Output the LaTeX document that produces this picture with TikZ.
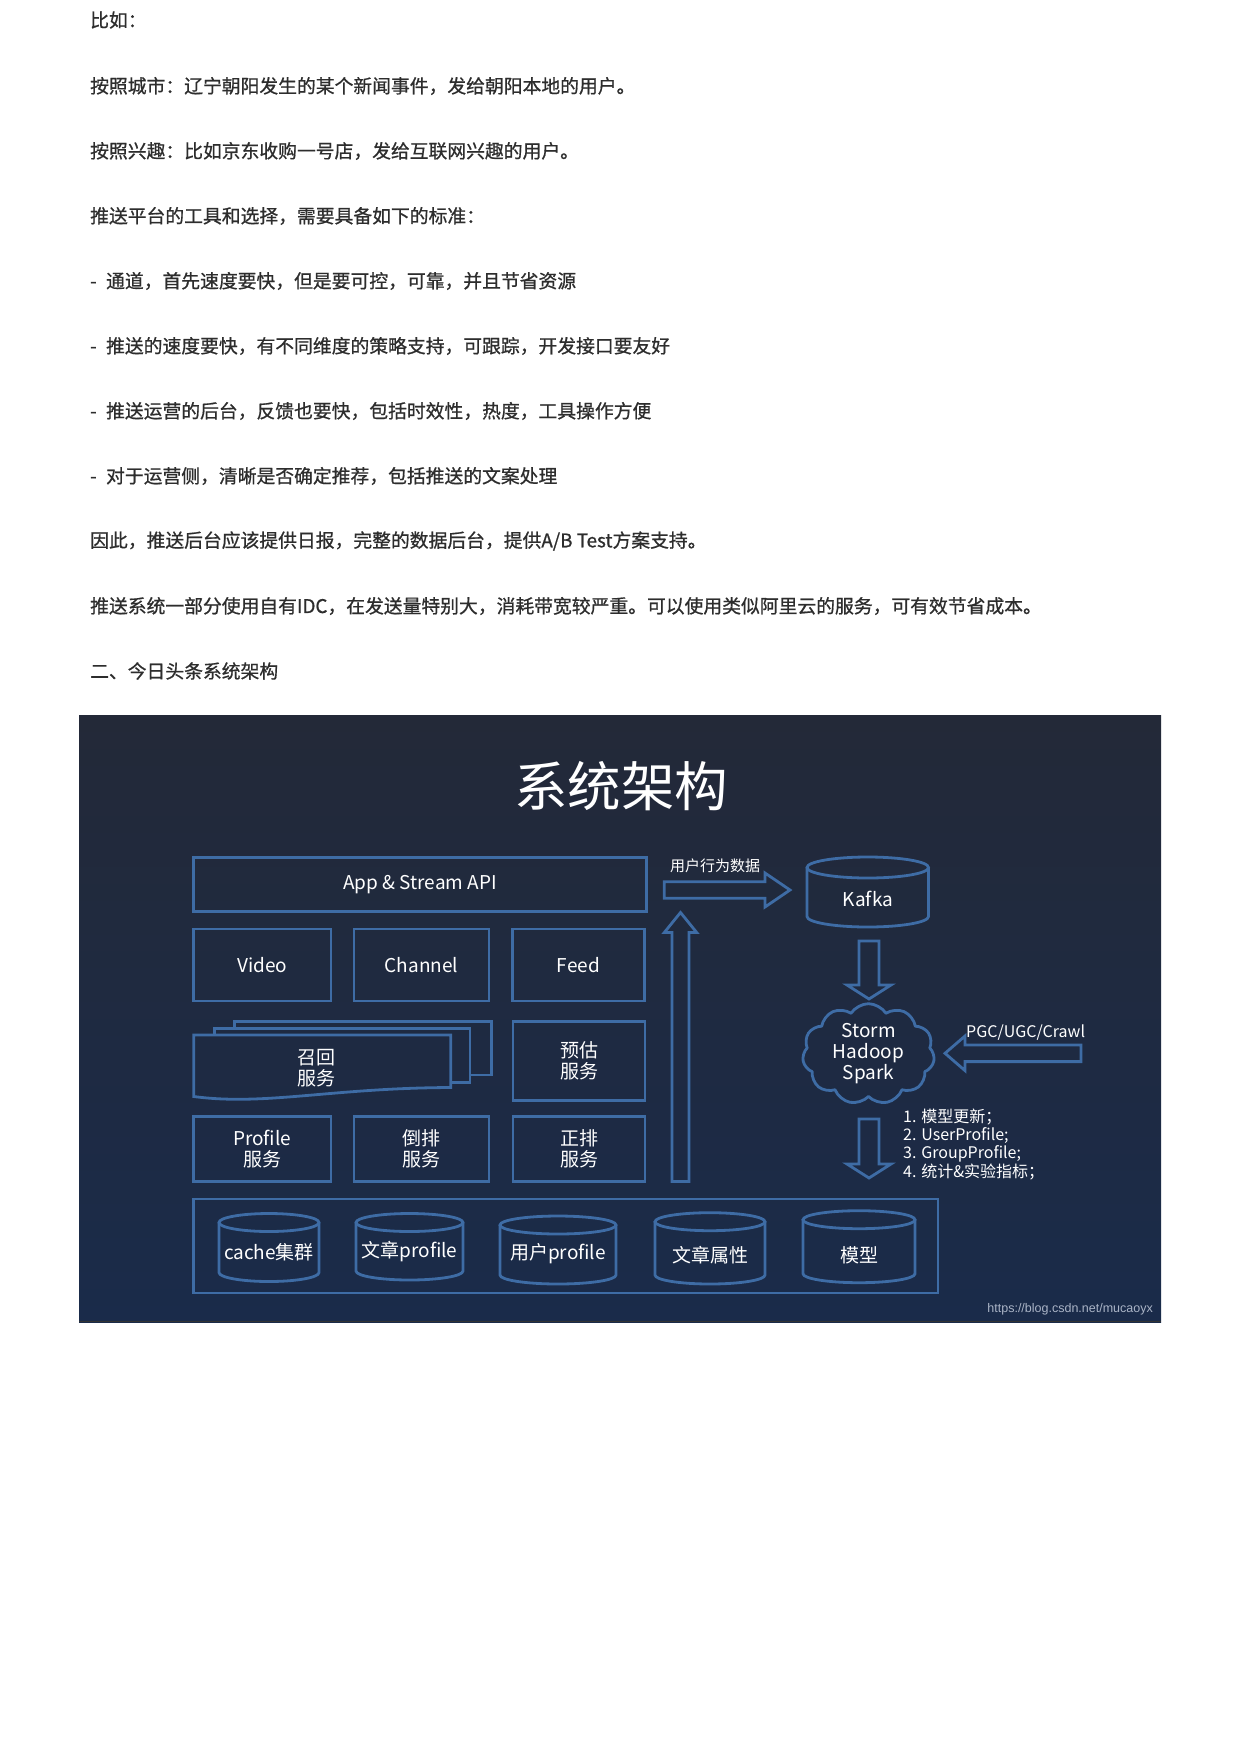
\documentclass[tikz,border=0pt]{standalone}
\usepackage{fontspec}
\setmainfont{Noto Sans CJK SC}
\newfontfamily\bodyfont[FakeBold=0.8]{Noto Sans CJK SC}
\newfontfamily\wmfont{Liberation Sans}
\usetikzlibrary{calc,shapes.symbols}
\definecolor{lnc}{RGB}{62,108,165}
\definecolor{bodyc}{RGB}{45,45,45}
\definecolor{bgtop}{RGB}{35,41,56}
\definecolor{bgbot}{RGB}{26,43,74}
\definecolor{wmc}{RGB}{170,180,198}
\newcommand\cylshape[5]{%
  \pgfmathsetmacro\cyrx{(#3-#1)/2}%
  \pgfmathsetmacro\cycx{(#1+#3)/2}%
  \draw[ln] (#1,{#2+#5}) -- (#1,{#4-#5}) arc[start angle=180,end angle=360,x radius=\cyrx pt,y radius=#5pt] -- (#3,{#2+#5});
  \draw[ln] (\cycx,{#2+#5}) ellipse[x radius=\cyrx pt,y radius=#5pt];
}
\newcommand\barrow[6]{%
  \coordinate (#1b) at ($(#3)!#6!(#2)$);
  \draw[ln] ($(#2)!#4!90:(#3)$) -- ($(#1b)!#4!90:(#3)$) -- ($(#1b)!#5!90:(#3)$) -- (#3)
    -- ($(#1b)!#5!-90:(#3)$) -- ($(#1b)!#4!-90:(#3)$) -- ($(#2)!#4!-90:(#3)$) -- cycle;
}
\begin{document}
\begin{tikzpicture}[x=1pt,y=-1pt,
  ln/.style={draw=lnc, line width=2.8pt, line join=miter},
  bx/.style={ln, rectangle, inner sep=0pt, text=white, align=center, font=\fontsize{19}{21}\selectfont},
  tx/.style={text=white, align=center, inner sep=0pt, font=\fontsize{19}{21}\selectfont},
  body/.style={anchor=west, inner sep=0pt, text=bodyc, font=\bodyfont\fontsize{18.8}{22}\selectfont},
]
\useasboundingbox (0,0) rectangle (1240,1754);
\fill[white] (0,0) rectangle (1240,1754);

% ---------- article text ----------
\node[body] (t1) at (90,20) {比如：};
\node[body] (t2) at (90,86) {按照城市：辽宁朝阳发生的某个新闻事件，发给朝阳本地的用户。};
\node[body] (t3) at (90,151) {按照兴趣：比如京东收购一号店，发给互联网兴趣的用户。};
\node[body] (t4) at (90,216) {推送平台的工具和选择，需要具备如下的标准：};
\node[body] (t5) at (90,281) {-\hspace{0.5em}通道，首先速度要快，但是要可控，可靠，并且节省资源};
\node[body] (t6) at (90,346) {-\hspace{0.5em}推送的速度要快，有不同维度的策略支持，可跟踪，开发接口要友好};
\node[body] (t7) at (90,411) {-\hspace{0.5em}推送运营的后台，反馈也要快，包括时效性，热度，工具操作方便};
\node[body] (t8) at (90,476) {-\hspace{0.5em}对于运营侧，清晰是否确定推荐，包括推送的文案处理};
\node[body] (t9) at (90,541) {因此，推送后台应该提供日报，完整的数据后台，提供A/B Test方案支持。};
\node[body] (t10) at (90,606) {推送系统一部分使用自有IDC，在发送量特别大，消耗带宽较严重。可以使用类似阿里云的服务，可有效节省成本。};
\node[body] (t11) at (90,671) {二、今日头条系统架构};

% ---------- slide background ----------
\shade[top color=bgtop, bottom color=bgbot] (79,715) rectangle (1161,1322);
\draw[black!80, line width=1.5pt] (79,1321.5) -- (1161,1321.5);

% title
\node[tx, font=\fontsize{53.5}{57}\selectfont] (title) at (621,786.5) {系统架构};

% ---------- left block ----------
\node[bx, minimum width=453pt, minimum height=54pt] (app) at (420,884.5) {App \& Stream API};
\node[bx, minimum width=137.5pt, minimum height=72pt] (video) at (262.25,965) {Video};
\node[bx, minimum width=135pt, minimum height=72pt] (channel) at (421.5,965) {Channel};
\node[bx, minimum width=132pt, minimum height=72pt] (feed) at (578.5,965) {Feed};

% recall stack
\draw[ln] (470,1075) -- (491.7,1075) -- (491.7,1021.7) -- (234.3,1021.7) -- (234.3,1028.3);
\draw[ln] (450.7,1082.3) -- (470,1082.3) -- (470,1028.3) -- (214.3,1028.3) -- (214.3,1035);
\draw[ln] (193.7,1035) -- (450.7,1035) -- (450.7,1087.5)
  .. controls (330,1088) and (265,1106) .. (193.7,1096.5) -- cycle;
\node[tx] (recall) at (316,1068) {召回\\服务};

\node[bx, minimum width=132pt, minimum height=79pt] (est) at (579,1061.2) {预估\\服务};
\node[bx, minimum width=137.5pt, minimum height=65pt] (prof) at (262.25,1149) {Profile\\服务};
\node[bx, minimum width=135pt, minimum height=65pt] (inv) at (421.5,1149) {倒排\\服务};
\node[bx, minimum width=132pt, minimum height=65pt] (fwd) at (579,1149) {正排\\服务};

% ---------- storage ----------
\node[ln, rectangle, inner sep=0pt, minimum width=744.5pt, minimum height=94pt] (store) at (565.75,1246) {};
\cylshape{219}{1213.5}{319}{1281.5}{9}
\node[tx] (cache) at (269,1252.5) {cache集群};
\cylshape{356}{1213.5}{463}{1280}{9}
\node[tx] (artprof) at (409.5,1252) {文章profile};
\cylshape{500}{1216}{616}{1284}{9}
\node[tx] (userprof) at (558,1254) {用户profile};
\cylshape{655}{1212.7}{765}{1284}{9}
\node[tx] (artattr) at (710,1255) {文章属性};
\cylshape{803}{1210.7}{915}{1282.7}{9}
\node[tx] (model) at (859,1255) {模型};

% ---------- right side ----------
\cylshape{807}{857}{928.5}{927}{10.5}
\node[tx] (kafka) at (868,898.5) {Kafka};

\node[cloud, cloud puffs=11, cloud puff arc=115, aspect=1.4, ln, line join=round,
  minimum width=132pt, minimum height=92pt, inner sep=0pt,
  text=white, align=center, font=\fontsize{19}{21}\selectfont] (proc) at (868.5,1054) {Storm\\Hadoop\\Spark};

% block arrows
\coordinate (a1t) at (664.3,890);  \coordinate (a1h) at (790,890);
\barrow{a1}{a1t}{a1h}{8.3pt}{17pt}{25pt}
\node[tx, font=\fontsize{15}{17}\selectfont] (lbl1) at (715,865.7) {用户行为数据};

\coordinate (a2t) at (680.5,1181.5); \coordinate (a2h) at (680.5,912.5);
\barrow{a2}{a2t}{a2h}{8.5pt}{16.2pt}{20pt}

\coordinate (a3t) at (869,941); \coordinate (a3h) at (869,999);
\barrow{a3}{a3t}{a3h}{10pt}{22pt}{14pt}

\coordinate (a4t) at (1081,1053.3); \coordinate (a4h) at (945,1053.3);
\barrow{a4}{a4t}{a4h}{8.3pt}{17.3pt}{20pt}
\node[tx, anchor=west, font=\fontsize{16}{18}\selectfont] (lbl2) at (966,1032.7) {PGC/UGC/Crawl};

\coordinate (a5t) at (869,1119); \coordinate (a5h) at (869,1178);
\barrow{a5}{a5t}{a5h}{10pt}{22pt}{14pt}

\node[tx, anchor=west, align=left, font=\fontsize{16}{18.3}\selectfont] (lst) at (903,1144.2)
  {1. 模型更新；\\2. UserProfile;\\3. GroupProfile;\\4. 统计\&实验指标；};

\node[anchor=east, inner sep=0pt, text=wmc, font=\wmfont\fontsize{12.5}{14}\selectfont] (wm) at (1153,1309.3) {https://blog.csdn.net/mucaoyx};
\end{tikzpicture}
\end{document}
